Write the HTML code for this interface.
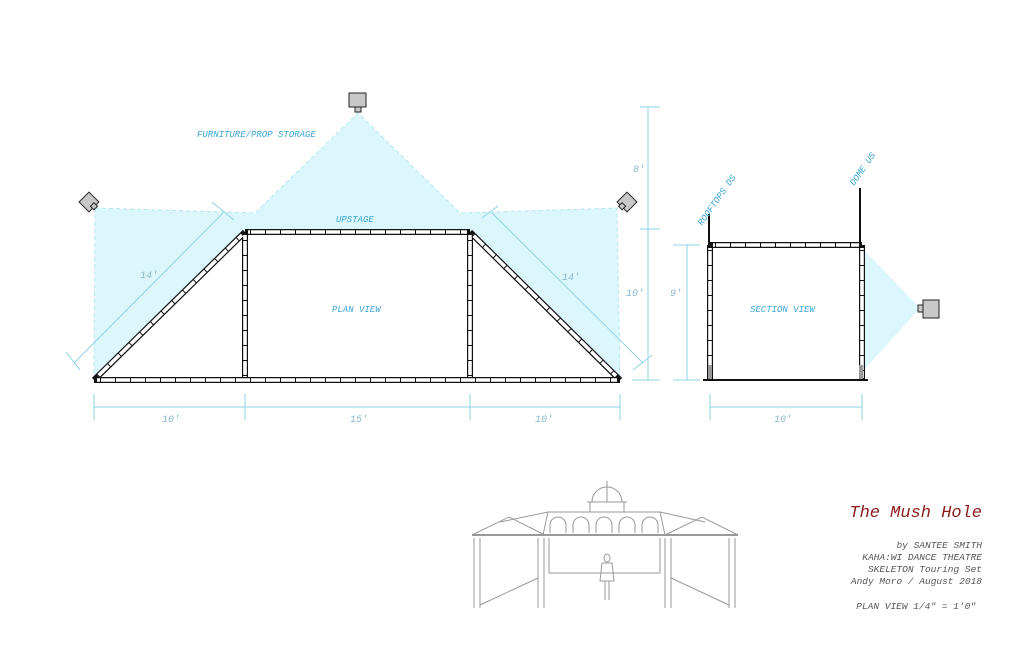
<!DOCTYPE html>
<html><head><meta charset="utf-8"><style>
html,body{margin:0;padding:0;background:#fff;}
svg{display:block;}
.dim{stroke:#8fd3e6;stroke-width:1;fill:none}
.lbl{font-family:"Liberation Mono",monospace;font-style:italic;fill:#3aa6d6;font-size:9px}
.lblg{font-family:"Liberation Mono",monospace;font-style:italic;fill:#8ab8c8;font-size:10px}
.g{stroke:#999;stroke-width:1;fill:none}
.t{font-family:"Liberation Mono",monospace;font-style:italic;fill:#555;font-size:9.5px}
</style></head><body>
<svg width="1024" height="662" viewBox="0 0 1024 662" xmlns="http://www.w3.org/2000/svg">
<polygon points="95,208 255,213 358,113 460,213 617,208 620,380 94,380" fill="#dcf7fb"/>
<polyline points="95,208 255,213 358,113 460,213 617,208 620,380" fill="none" stroke="#b5e6f0" stroke-dasharray="4 3"/>
<line x1="95" y1="208" x2="94" y2="380" stroke="#b5e6f0" stroke-dasharray="4 3"/>
<polygon points="94,380 245,232 470,232 620,380" fill="#fff"/>
<polygon points="862,248 920,308 862,372" fill="#dcf7fb"/>

<g stroke-linecap="butt">
 <g stroke="#111" stroke-width="6" fill="none">
  <line x1="94" y1="380" x2="620" y2="380"/>
  <line x1="245" y1="232" x2="470" y2="232"/>
  <line x1="94" y1="380" x2="245" y2="232"/>
  <line x1="470" y1="232" x2="620" y2="380"/>
  <line x1="245" y1="232" x2="245" y2="380"/>
  <line x1="470" y1="232" x2="470" y2="380"/>
  <line x1="710" y1="245" x2="862" y2="245"/>
  <line x1="710" y1="245" x2="710" y2="380"/>
  <line x1="862" y1="245" x2="862" y2="380"/>
 </g>
 <g stroke="#fff" stroke-width="3.6" fill="none">
  <line x1="97" y1="380" x2="617" y2="380"/>
  <line x1="248" y1="232" x2="467" y2="232"/>
  <line x1="98" y1="376" x2="242" y2="235"/>
  <line x1="473" y1="235" x2="616" y2="376"/>
  <line x1="245" y1="235" x2="245" y2="377"/>
  <line x1="470" y1="235" x2="470" y2="377"/>
  <line x1="713" y1="245" x2="859" y2="245"/>
  <line x1="710" y1="248" x2="710" y2="378"/>
  <line x1="862" y1="248" x2="862" y2="378"/>
 </g>
 <g stroke="#111" stroke-width="4" stroke-dasharray="1 14" fill="none">
  <line x1="100" y1="380" x2="617" y2="380"/>
  <line x1="250" y1="232" x2="467" y2="232"/>
  <line x1="98" y1="376" x2="242" y2="235"/>
  <line x1="473" y1="235" x2="616" y2="376"/>
  <line x1="245" y1="240" x2="245" y2="377"/>
  <line x1="470" y1="240" x2="470" y2="377"/>
  <line x1="715" y1="245" x2="859" y2="245"/>
  <line x1="710" y1="250" x2="710" y2="378"/>
  <line x1="862" y1="250" x2="862" y2="378"/>
 </g>
</g>
<line x1="709" y1="214" x2="709" y2="245" stroke="#111" stroke-width="2"/>
<line x1="860" y1="188" x2="860" y2="245" stroke="#111" stroke-width="2"/>
<line x1="703" y1="380" x2="868" y2="380" stroke="#111" stroke-width="2"/>
<rect x="708" y="365" width="4" height="14" fill="#999"/>
<rect x="859" y="365" width="4" height="14" fill="#999"/>

<rect x="349" y="93" width="17" height="14" fill="#c8c8c8" stroke="#222"/>
<rect x="355" y="107" width="6" height="5" fill="#c8c8c8" stroke="#222"/>
<g transform="translate(89,202) rotate(45)"><rect x="-7" y="-7" width="14" height="14" fill="#c8c8c8" stroke="#222"/><rect x="4" y="-3" width="5" height="5" fill="#c8c8c8" stroke="#222"/></g>
<g transform="translate(627,202) rotate(-45)"><rect x="-7" y="-7" width="14" height="14" fill="#c8c8c8" stroke="#222"/><rect x="-9" y="-3" width="5" height="5" fill="#c8c8c8" stroke="#222"/></g>
<rect x="923" y="300" width="16" height="18" fill="#c8c8c8" stroke="#222"/>
<rect x="918" y="305" width="5" height="7" fill="#c8c8c8" stroke="#222"/>

<g class="dim">
 <line x1="74" y1="363" x2="223" y2="213"/><line x1="66" y1="352" x2="80" y2="370"/><line x1="212" y1="202" x2="234" y2="220"/>
 <line x1="492" y1="213" x2="643" y2="363"/><line x1="482" y1="218" x2="498" y2="206"/><line x1="633" y1="370" x2="652" y2="355"/>
 <line x1="648" y1="107" x2="648" y2="380"/><line x1="640" y1="107" x2="660" y2="107"/><line x1="640" y1="229" x2="660" y2="229"/><line x1="632" y1="380" x2="660" y2="380"/>
 <line x1="687" y1="245" x2="687" y2="380"/><line x1="673" y1="245" x2="700" y2="245"/><line x1="673" y1="380" x2="700" y2="380"/>
 <line x1="94" y1="407" x2="620" y2="407"/>
 <line x1="94" y1="394" x2="94" y2="420"/><line x1="245" y1="394" x2="245" y2="420"/><line x1="470" y1="394" x2="470" y2="420"/><line x1="620" y1="394" x2="620" y2="420"/>
 <line x1="710" y1="407" x2="862" y2="407"/><line x1="710" y1="394" x2="710" y2="420"/><line x1="862" y1="394" x2="862" y2="420"/>
</g>
<text class="lblg" x="162" y="422">10'</text>
<text class="lblg" x="350" y="422">15'</text>
<text class="lblg" x="535" y="422">10'</text>
<text class="lblg" x="774" y="422">10'</text>
<text class="lblg" x="140" y="278">14'</text>
<text class="lblg" x="562" y="280">14'</text>
<text class="lblg" x="633" y="172">8'</text>
<text class="lblg" x="626" y="296">10'</text>
<text class="lblg" x="670" y="296">9'</text>
<text class="lbl" x="197" y="137" font-size="8">FURNITURE/PROP STORAGE</text>
<text class="lbl" x="336" y="222" font-size="8">UPSTAGE</text>
<text class="lbl" x="332" y="312" font-size="8">PLAN VIEW</text>
<text class="lbl" x="750" y="312" font-size="8">SECTION VIEW</text>
<text class="lbl" font-size="8" transform="translate(702,226) rotate(-55)">ROOFTOPS DS</text>
<text class="lbl" font-size="8" transform="translate(854,186) rotate(-55)">DOME US</text>

<g class="g">
 <path d="M592,502 A15,15 0 0 1 622,502"/><line x1="587" y1="502" x2="627" y2="502"/><line x1="607" y1="481" x2="607" y2="502"/>
 <line x1="590" y1="502" x2="590" y2="512"/><line x1="624" y1="502" x2="624" y2="512"/>
 <line x1="548" y1="512" x2="660" y2="512"/>
 <line x1="548" y1="512" x2="543" y2="535"/><line x1="660" y1="512" x2="665" y2="535"/>
 <line x1="548" y1="512" x2="500" y2="522"/><line x1="660" y1="512" x2="705" y2="522"/>
 <path d="M550,533 v-8 a8,8 0 0 1 16,0 v8 M573,533 v-8 a8,8 0 0 1 16,0 v8 M596,533 v-8 a8,8 0 0 1 16,0 v8 M619,533 v-8 a8,8 0 0 1 16,0 v8 M642,533 v-8 a8,8 0 0 1 16,0 v8"/>
 <polyline points="472,535 509,517 545,535"/><polyline points="665,535 702,517 738,535"/>
 <line x1="472" y1="535" x2="738" y2="535" stroke-width="2"/>
 <line x1="474" y1="538" x2="474" y2="608"/><line x1="480" y1="538" x2="480" y2="608"/>
 <line x1="538" y1="538" x2="538" y2="608"/><line x1="544" y1="538" x2="544" y2="608"/>
 <line x1="665" y1="538" x2="665" y2="608"/><line x1="671" y1="538" x2="671" y2="608"/>
 <line x1="729" y1="538" x2="729" y2="608"/><line x1="735" y1="538" x2="735" y2="608"/>
 <line x1="549" y1="538" x2="549" y2="573"/><line x1="660" y1="538" x2="660" y2="573"/>
 <line x1="549" y1="573" x2="660" y2="573"/>
 <line x1="480" y1="605" x2="538" y2="578"/><line x1="671" y1="578" x2="729" y2="605"/>
 <ellipse cx="607" cy="558" rx="3" ry="4"/><path d="M602,563 h10 l2,18 h-14 z"/><line x1="605" y1="581" x2="605" y2="600"/><line x1="609" y1="581" x2="609" y2="600"/>
</g>

<text x="982" y="517" text-anchor="end" font-family="Liberation Mono,monospace" font-style="italic" font-size="17" fill="#8b1a1a">The Mush Hole</text>
<text class="t" x="982" y="548" text-anchor="end">by SANTEE SMITH</text>
<text class="t" x="982" y="560" text-anchor="end">KAHA:WI DANCE THEATRE</text>
<text class="t" x="982" y="572" text-anchor="end">SKELETON Touring Set</text>
<text class="t" x="982" y="584" text-anchor="end">Andy Moro / August 2018</text>
<text class="t" x="976" y="609" text-anchor="end">PLAN VIEW 1/4" = 1'0"</text>
</svg>
</body></html>
